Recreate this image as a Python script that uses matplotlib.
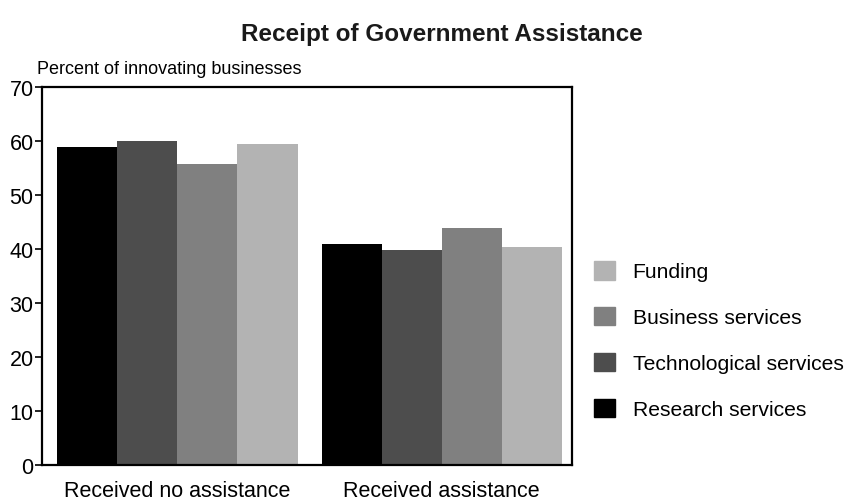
import matplotlib
matplotlib.use("Agg")
import matplotlib.pyplot as plt
from matplotlib.patches import Patch
import numpy as np

plt.rcParams['font.family'] = ['Liberation Sans', 'DejaVu Sans']

categories = ["Received no assistance", "Received assistance"]
series = ["Research services", "Technological services", "Business services", "Funding"]
research = [58.8, 40.9]
technological = [60.0, 39.8]
business = [55.7, 43.9]
funding = [59.4, 40.4]
colors = ["#000000", "#4d4d4d", "#808080", "#b3b3b3"]

values = [research, technological, business, funding]

fig = plt.figure(figsize=(8.52, 5.02), dpi=100)
ax = fig.add_axes([42/852, 1-466/502, (572-42)/852, (466-88)/502])

x = np.arange(len(categories))
w = 60/264
for i, (vals, c, name) in enumerate(zip(values, colors, series)):
    ax.bar(x + (i - 1.5) * w, vals, width=w, color=c, label=name, linewidth=0)

ax.set_xlim(-0.513, 1.494)
ax.set_ylim(0, 70)
ax.set_yticks(range(0, 71, 10))
ax.set_xticks(x)
ax.set_xticklabels(categories, fontsize=15.5)
ax.tick_params(axis='x', length=0, pad=11)
ax.tick_params(axis='y', labelsize=15.5, length=5, width=1.2, pad=1)
for s in ax.spines.values():
    s.set_linewidth(1.6)

fig.text(37/852, 1-74/502, "Percent of innovating businesses", fontsize=13, va='baseline', ha='left')
fig.text(441.5/852, 1-41/502, "Receipt of Government Assistance", fontsize=17.5,
         fontweight='bold', ha='center', va='baseline', color='#1a1a1a')

handles = [Patch(color=c, label=n) for c, n in zip(colors, series)][::-1]
fig.legend(handles=handles, loc='center left', bbox_to_anchor=(575/852, 1-341/502),
           frameon=False, fontsize=15.2, handlelength=0.98, handleheight=0.98,
           labelspacing=1.2, handletextpad=0.85)

fig.savefig("out.png", dpi=100)
